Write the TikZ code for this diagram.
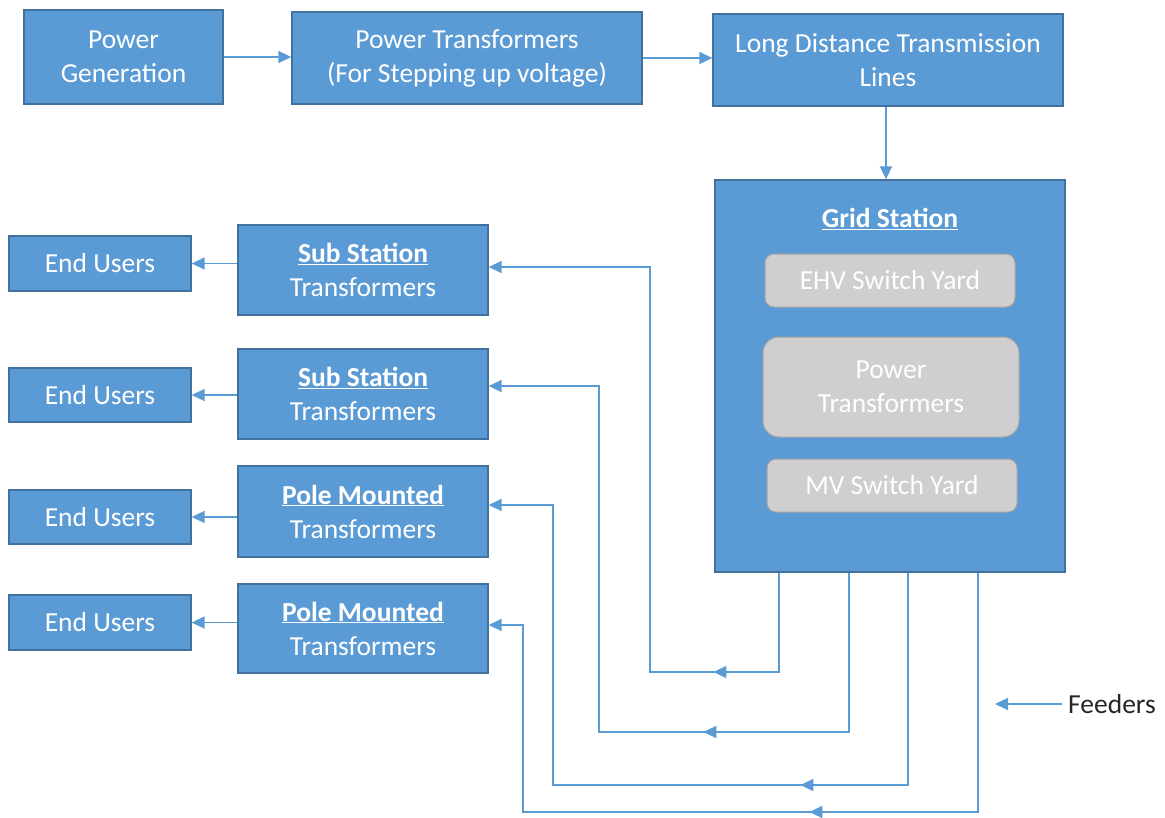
\documentclass[tikz,border=0pt]{standalone}
\usepackage{fontspec}
\setmainfont{Carlito}
\usetikzlibrary{arrows.meta,decorations.markings}
\definecolor{boxblue}{HTML}{5B9BD5}
\definecolor{boxedge}{HTML}{41719C}
\definecolor{greyfill}{HTML}{D0CECE}
\definecolor{greyedge}{HTML}{A5A5A5}
\definecolor{txtdark}{HTML}{262626}
\tikzset{
  bluebox/.style={draw=boxedge,fill=boxblue,line width=1.3pt,text=white,align=center,inner sep=0pt,
    font=\fontsize{27.5}{34}\selectfont},
  greybox/.style={draw=greyedge,fill=greyfill,line width=1pt,text=white,align=center,inner sep=0pt,
    rounded corners=9pt,font=\fontsize{27.5}{34}\selectfont},
  tip/.style={-{Triangle[length=13pt,width=12pt]}},
  conn/.style={draw=boxblue,line width=1.5pt,tip},
  feed/.style={draw=boxblue,line width=1.5pt,tip,postaction={decorate}},
}
\newcommand{\bx}[6]{\node[#1,minimum width=#4-#2,minimum height=#5-#3] (#6) at ({(#2+#4)/2},{(#3+#5)/2})}
\begin{document}
\begin{tikzpicture}[x=1pt,y=-1pt]
\useasboundingbox (0,0) rectangle (1165,817);
% top row
\bx{bluebox}{24}{10}{223}{104}{pg} {Power\\Generation};
\bx{bluebox}{292}{12}{642}{104}{ptu} {Power Transformers\\(For Stepping up voltage)};
\bx{bluebox}{713}{14}{1063}{106}{ld} {Long Distance Transmission\\Lines};
% grid station
\bx{bluebox}{715}{180}{1065}{572}{gs} {};
\node[text=white,font=\fontsize{27.5}{34}\selectfont\bfseries] (gst) at (890,219) {\underline{Grid Station}};
\bx{greybox}{765}{254}{1015}{307}{ehv} {EHV Switch Yard};
\bx{greybox,rounded corners=16pt}{763}{337}{1019}{437}{ptr} {Power\\Transformers};
\bx{greybox}{767}{459}{1017}{512}{mv} {MV Switch Yard};
% end users
\bx{bluebox}{9}{236}{191}{291}{eu1} {End Users};
\bx{bluebox}{9}{368}{191}{422}{eu2} {End Users};
\bx{bluebox}{9}{490}{191}{544}{eu3} {End Users};
\bx{bluebox}{9}{595}{191}{650}{eu4} {End Users};
% transformers
\bx{bluebox}{238}{225}{488}{315}{t1} {\textbf{\underline{Sub Station}}\\Transformers};
\bx{bluebox}{238}{349}{488}{439}{t2} {\textbf{\underline{Sub Station}}\\Transformers};
\bx{bluebox}{238}{466}{488}{557}{t3} {\textbf{\underline{Pole Mounted}}\\Transformers};
\bx{bluebox}{238}{584}{488}{673}{t4} {\textbf{\underline{Pole Mounted}}\\Transformers};
% top connectors
\draw[conn] (pg.east) -- (ptu.west |- pg.east);
\draw[conn] (ptu.east) -- (ld.west |- ptu.east);
\draw[conn] (ld.south -| 886,0) -- (gs.north -| 886,0);
% transformer to end users
\foreach \i in {1,2,3,4}{\draw[conn] (t\i.west |- eu\i.east) -- (eu\i.east);}
% feeders
\coordinate (f1) at (779,672); \coordinate (f1b) at (650,672); \coordinate (e1) at (0,267);
\coordinate (f2) at (849,732); \coordinate (f2b) at (599,732); \coordinate (e2) at (0,386);
\coordinate (f3) at (908,785); \coordinate (f3b) at (553,785); \coordinate (e3) at (0,505);
\coordinate (f4) at (978,812); \coordinate (f4b) at (523,812); \coordinate (e4) at (0,625);
\draw[feed,decoration={markings,mark=at position 165pt with {\arrow{Triangle[length=13pt,width=12pt]}}}]
  (gs.south -| f1) -- (f1) -- (f1b) -- (f1b |- e1) -- (t1.east |- e1);
\draw[feed,decoration={markings,mark=at position 305pt with {\arrow{Triangle[length=13pt,width=12pt]}}}]
  (gs.south -| f2) -- (f2) -- (f2b) -- (f2b |- e2) -- (t2.east |- e2);
\draw[feed,decoration={markings,mark=at position 320pt with {\arrow{Triangle[length=13pt,width=12pt]}}}]
  (gs.south -| f3) -- (f3) -- (f3b) -- (f3b |- e3) -- (t3.east |- e3);
\draw[feed,decoration={markings,mark=at position 408pt with {\arrow{Triangle[length=13pt,width=12pt]}}}]
  (gs.south -| f4) -- (f4) -- (f4b) -- (f4b |- e4) -- (t4.east |- e4);
% legend
\node[anchor=west,text=txtdark,inner sep=0pt,font=\fontsize{27.5}{34}\selectfont] (fdr) at (1068,704) {Feeders};
\coordinate (fdend) at (995,704);
\draw[conn] ([xshift=-6pt]fdr.west) -- (fdend);
\end{tikzpicture}
\end{document}
